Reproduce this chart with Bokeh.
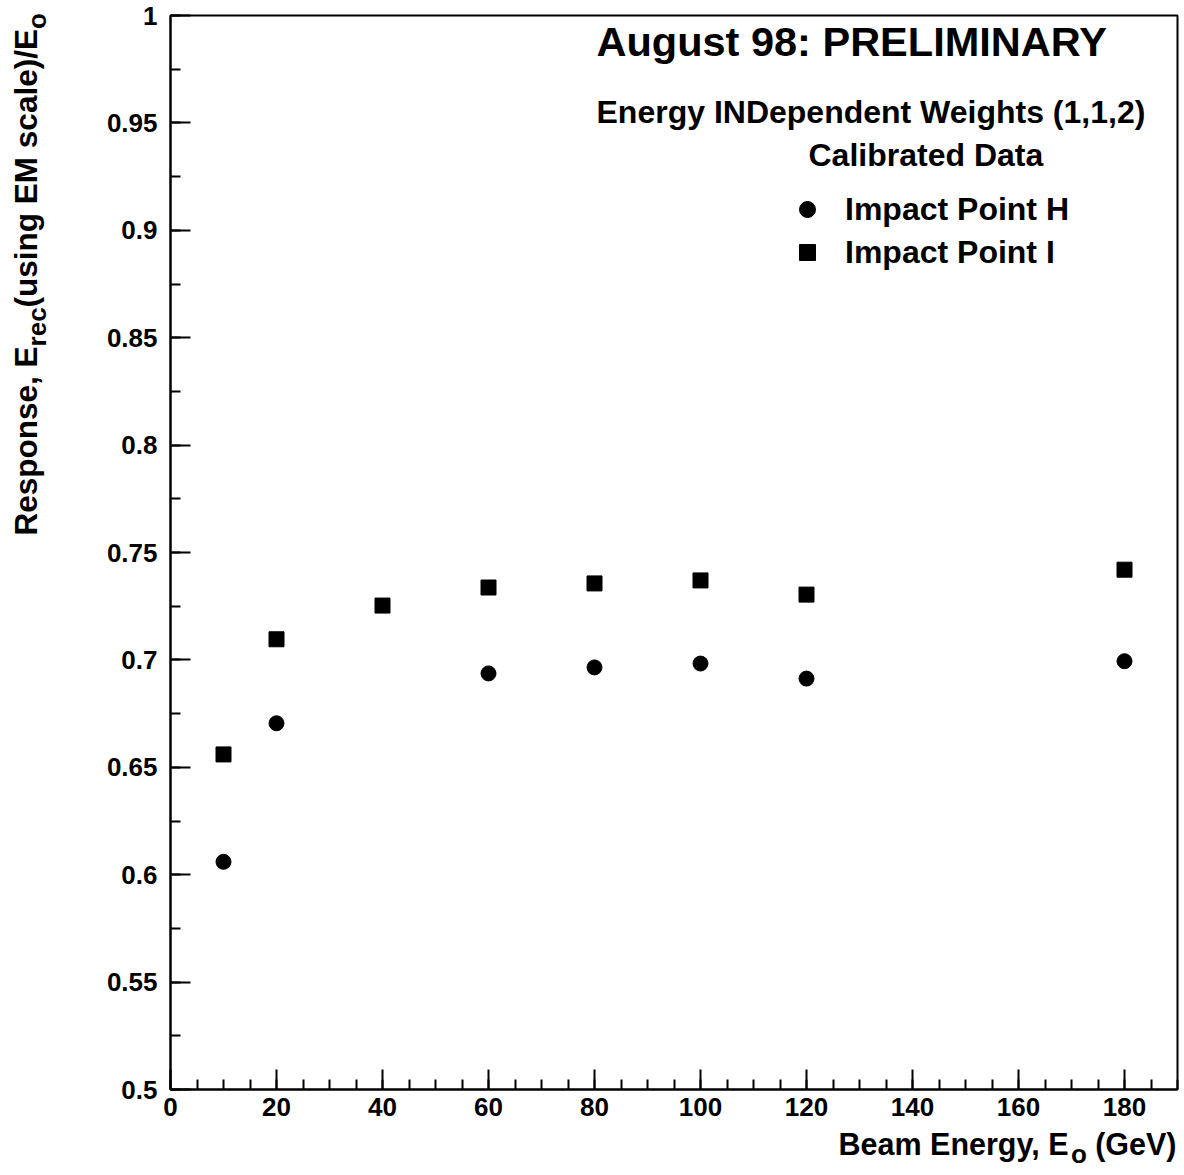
import math
from bokeh.plotting import figure
from bokeh.layouts import row, column
from bokeh.models import (Label, Legend, LegendItem, FixedTicker,
                          CustomJSTickFormatter, Range1d)
from bokeh.embed import file_html
from bokeh.resources import INLINE

# ---- data ----
energy_h = [10, 20, 60, 80, 100, 120, 180]
response_h = [0.606, 0.6705, 0.6937, 0.6965, 0.6983, 0.6913, 0.6994]
energy_i = [10, 20, 40, 60, 80, 100, 120, 180]
response_i = [0.656, 0.7096, 0.7253, 0.7337, 0.7356, 0.737, 0.7304, 0.742]

x_major = [0, 20, 40, 60, 80, 100, 120, 140, 160, 180]
x_minor = [v * 5 for v in range(0, 39)]
y_major = [0.5, 0.55, 0.6, 0.65, 0.7, 0.75, 0.8, 0.85, 0.9, 0.95, 1.0]
y_minor = [0.5 + 0.025 * k for k in range(0, 21)]

series_labels = ["Impact Point H", "Impact Point I"]
title_lines = ["August 98: PRELIMINARY",
               "Energy INDependent Weights (1,1,2)",
               "Calibrated Data"]
xlabel_parts = ["Beam Energy, E", "o", "(GeV)"]
ylabel_parts = ["Response, E", "rec", "(using EM scale)/E", "o"]

FONT = "Liberation Sans"
W, H = 1184, 1175
STRIP_W = 60          # left strip holding the y-axis title
PH = 1127             # height of the main figure
FL, FR, FT, FB = 170, 1177, 15, 1089   # frame edges in page pixels
X0, X1, Y0, Y1 = 0, 190, 0.5, 1.0
BASE_FIX = 0.38       # baseline correction, in em


def no_align(f):
    try:
        f.frame_align = False
    except Exception:
        pass


p = figure(width=W - STRIP_W, height=PH, output_backend="svg",
           toolbar_location=None,
           x_range=Range1d(X0, X1), y_range=Range1d(Y0, Y1),
           min_border_left=FL - STRIP_W, min_border_right=W - FR,
           min_border_top=FT, min_border_bottom=PH - FB)
no_align(p)
p.background_fill_color = "white"
p.border_fill_color = "white"
p.outline_line_color = "black"
p.outline_line_width = 2
p.xgrid.visible = False
p.ygrid.visible = False

for ax in (p.xaxis[0], p.yaxis[0]):
    ax.axis_line_width = 2
    ax.axis_line_color = "black"
    ax.major_tick_in = 20
    ax.major_tick_out = 0
    ax.minor_tick_in = 10
    ax.minor_tick_out = 0
    ax.major_tick_line_width = 2
    ax.minor_tick_line_width = 2
    ax.major_tick_line_color = "black"
    ax.minor_tick_line_color = "black"
    ax.major_label_text_font = FONT
    ax.major_label_text_font_style = "bold"
    ax.major_label_text_font_size = "26px"
    ax.major_label_text_color = "black"
    ax.axis_label = None

p.xaxis[0].ticker = FixedTicker(ticks=x_major, minor_ticks=x_minor)
p.yaxis[0].ticker = FixedTicker(ticks=y_major, minor_ticks=y_minor)
p.yaxis[0].formatter = CustomJSTickFormatter(code="""
    return tick.toFixed(2).replace(/0+$/, '').replace(/\\.$/, '');
""")
p.xaxis[0].major_label_standoff = 8
p.yaxis[0].major_label_standoff = 13

rh = p.scatter(energy_h, response_h, marker="circle", size=15,
               fill_color="black", line_color="black")
ri = p.scatter(energy_i, response_i, marker="square", size=15,
               fill_color="black", line_color="black")


def dx(px):
    return X0 + (px - FL) * (X1 - X0) / (FR - FL)


def dy(py):
    return Y0 + (FB - py) * (Y1 - Y0) / (FB - FT)


def mk(text, x, y, size, angle=0.0, align="left"):
    return Label(x=x, y=y, text=text, angle=angle,
                 text_font=FONT, text_font_style="bold",
                 text_font_size=f"{size}px", text_color="black",
                 text_align=align, text_baseline="alphabetic")


# header texts inside the frame (page-pixel baselines, corrected)
p.add_layout(mk(title_lines[0], dx(596), dy(57 - BASE_FIX * 41.5), 41.5))
p.add_layout(mk(title_lines[1], dx(596), dy(124 - BASE_FIX * 32), 32))
p.add_layout(mk(title_lines[2], dx(808), dy(167 - BASE_FIX * 32), 32))

legend = Legend(items=[LegendItem(label=series_labels[0], renderers=[rh]),
                       LegendItem(label=series_labels[1], renderers=[ri])],
                location=(617, 817), orientation="vertical",
                border_line_color=None, background_fill_alpha=0,
                padding=0, margin=0, spacing=3,
                glyph_width=40, glyph_height=40, label_height=40,
                label_standoff=18,
                label_text_font=FONT, label_text_font_style="bold",
                label_text_font_size="32px", label_text_color="black")
p.add_layout(legend)


def strip(w, h, x0, y0):
    # a bare figure whose data coordinates equal page pixels
    f = figure(width=w, height=h, output_backend="svg", toolbar_location=None,
               x_axis_type=None, y_axis_type=None,
               x_range=Range1d(x0, x0 + w), y_range=Range1d(y0 + h, y0),
               min_border=0)
    no_align(f)
    f.outline_line_color = None
    f.background_fill_color = "white"
    f.border_fill_color = "white"
    return f


# y-axis title strip (left), text runs upward
MS, SS = 31.5, 26
fy = strip(STRIP_W, H, 0, 0)
ang = math.pi / 2
fy.add_layout(mk(ylabel_parts[0], 37 - BASE_FIX * MS, 535, MS, angle=ang))
fy.add_layout(mk(ylabel_parts[1], 46 - BASE_FIX * SS, 345.9, SS, angle=ang))
fy.add_layout(mk(ylabel_parts[2], 37 - BASE_FIX * MS, 306.9, MS, angle=ang))
fy.add_layout(mk(ylabel_parts[3], 46 - BASE_FIX * SS, 28.6, SS, angle=ang))

# x-axis title strip (bottom)
XM, XS = 30.5, 26
fx = strip(W - STRIP_W, H - PH, STRIP_W, PH)
fx.add_layout(mk(xlabel_parts[0], 838, 1155.5 - BASE_FIX * XM, XM))
fx.add_layout(mk(xlabel_parts[1], 1070.5, 1163 - BASE_FIX * XS, XS))
fx.add_layout(mk(xlabel_parts[2], 1176, 1155.5 - BASE_FIX * XM, XM,
                 align="right"))

layout = row(fy, column(p, fx, spacing=0), spacing=0)

open("out.html", "w").write(file_html(layout, INLINE))
